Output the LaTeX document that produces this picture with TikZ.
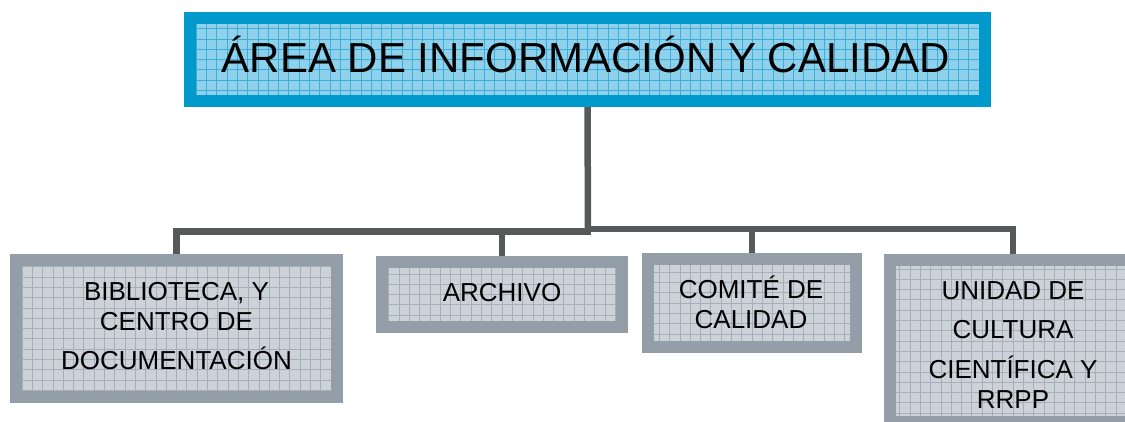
\documentclass[tikz,border=0pt]{standalone}
\usepackage{fontspec}
\setmainfont{Liberation Sans}
\definecolor{bluebd}{HTML}{0099CC}
\definecolor{bluein}{HTML}{8FD1EA}
\definecolor{bluegr}{HTML}{3DAEDA}
\definecolor{graybd}{HTML}{949EA8}
\definecolor{grayin}{HTML}{CDD2D8}
\definecolor{graygr}{HTML}{A6AEB7}
\definecolor{conn}{HTML}{565859}
\tikzset{
  boxbase/.style={rectangle, line width=12pt, inner sep=0pt},
  bluebox/.style={boxbase, draw=bluebd, fill=bluein,
    path picture={\draw[bluegr, line width=0.7pt, x=1pt, y=1pt]
      ([shift={(-20pt,-20pt)}]path picture bounding box.south west) grid[step=10.3pt]
      ([shift={(20pt,20pt)}]path picture bounding box.north east);}},
  graybox/.style={boxbase, draw=graybd, fill=grayin,
    path picture={\draw[graygr, line width=0.7pt, x=1pt, y=1pt]
      ([shift={(-20pt,-20pt)}]path picture bounding box.south west) grid[step=10.3pt]
      ([shift={(20pt,20pt)}]path picture bounding box.north east);}},
  lbl/.style={anchor=base, inner sep=0pt, font=\fontsize{26}{30}\selectfont},
  title/.style={anchor=base, inner sep=0pt, font=\fontsize{42}{48}\selectfont},
  link/.style={draw=conn, line width=6.5pt}
}
\begin{document}
\begin{tikzpicture}[x=1pt,y=-1pt]
\useasboundingbox (0,0) rectangle (1125,421);
\clip (0,0) rectangle (1125,421);
% boxes
\node[bluebox, minimum width=795, minimum height=83] (top) at (587.5,59.5) {};
\node[graybox, minimum width=321, minimum height=137] (b1) at (176.5,328.5) {};
\node[graybox, minimum width=240, minimum height=65] (b2) at (502,294.5) {};
\node[graybox, minimum width=208, minimum height=88] (b3) at (752,303) {};
\node[graybox, minimum width=246, minimum height=162] (b4) at (1013,341) {};
% texts
\node[title] (t0) at (586,72) {ÁREA DE INFORMACIÓN Y CALIDAD};
\node[lbl] (t1) at (176.5,300) {\begin{tabular}[t]{@{}c@{}}BIBLIOTECA, Y\\ CENTRO DE\\[8pt] DOCUMENTACIÓN\end{tabular}};
\node[lbl] (t2) at (502,301) {ARCHIVO};
\node[lbl] (t3) at (751,298) {\begin{tabular}[t]{@{}c@{}}COMITÉ DE\\ CALIDAD\end{tabular}};
\node[lbl] (t4) at (1013,299) {\begin{tabular}[t]{@{}c@{}}UNIDAD DE\\[9pt] CULTURA\\[9pt] CIENTÍFICA Y\\ RRPP\end{tabular}};
% connectors
\coordinate (jl) at (588,231.5);
\coordinate (jr) at (588,229);
\draw[link] (top.south) -- ([yshift=3]jl);
\draw[link] ([xshift=3.25]jl) -| (b1.north);
\draw[link] (jl) -| (b2.north);
\draw[link] ([xshift=-3.25]jr) -| (b3.north);
\draw[link] (jr) -| (b4.north);
\end{tikzpicture}
\end{document}
